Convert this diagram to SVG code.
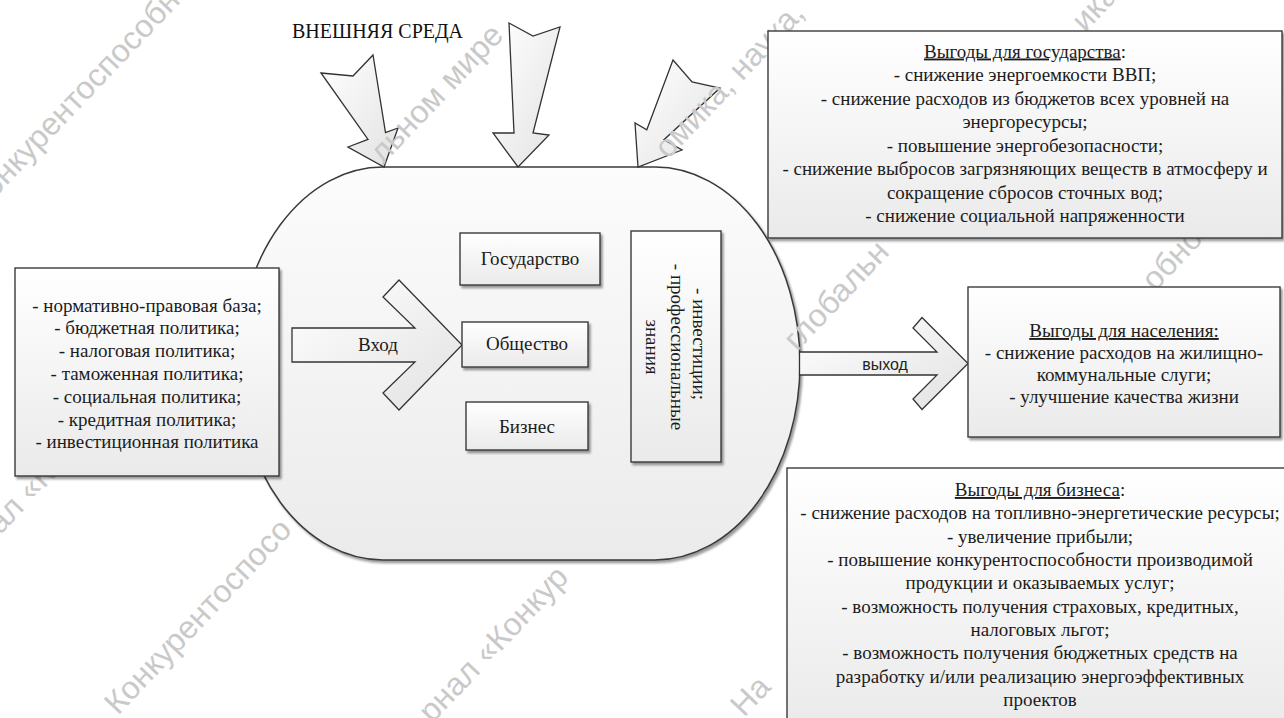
<svg xmlns="http://www.w3.org/2000/svg" width="1284" height="718" viewBox="0 0 1284 718">
<defs>
<linearGradient id="gBox" x1="0" y1="0" x2="0" y2="1"><stop offset="0" stop-color="#ffffff"/><stop offset="1" stop-color="#eaeaea"/></linearGradient>
<linearGradient id="gShape" x1="0" y1="0" x2="0" y2="1"><stop offset="0" stop-color="#fcfcfc"/><stop offset="1" stop-color="#ebebeb"/></linearGradient>
<linearGradient id="gArrow" x1="0" y1="0" x2="1" y2="1"><stop offset="0" stop-color="#ffffff"/><stop offset="1" stop-color="#e2e2e2"/></linearGradient>
<filter id="sh" x="-5%" y="-5%" width="115%" height="115%"><feDropShadow dx="2" dy="2.5" stdDeviation="1.2" flood-color="#000" flood-opacity="0.4"/></filter>
</defs>
<style>
.box{fill:url(#gBox);stroke:#3a3a3a;stroke-width:1.4;filter:url(#sh)}
.shape{fill:url(#gShape);stroke:#3a3a3a;stroke-width:1.5;filter:url(#sh)}
.arr{fill:url(#gArrow);stroke:#333;stroke-width:1.3;stroke-linejoin:miter}
.t{font-family:"Liberation Serif","Times New Roman",serif;font-size:19px;fill:#1c1c1c;text-anchor:middle}
.title{font-family:"Liberation Serif","Times New Roman",serif;font-size:20px;fill:#111}
.wm{font-family:"Liberation Sans",Arial,sans-serif;font-size:32px;fill:#c9c9c9}
.lbl{font-family:"Liberation Sans",Arial,sans-serif;font-size:16px;fill:#222;text-anchor:middle}
</style>
<rect width="1284" height="718" fill="#ffffff"/>

<g id="system">
<path class="shape" d="M383,167 H655 A145,196.5 0 0 1 655,560 H383 A145,196.5 0 0 1 383,167 Z"/>
</g>

<g id="connectors">
<polygon class="arr" points="321,73 353,76 373,55 385.5,132.7 398,128 384,167 348,147 368,139.4"/>
<polygon class="arr" points="509,23 533,36 560,27 533,133 549,135 518,167 493,133 514,133"/>
<polygon class="arr" points="673,60 692,82 720,88 664,139.7 682,150 638,167 635,123 646.8,129.8"/>
<polygon class="arr" points="292,328 415,328 383,297 399,280 462,345 399,410 383,393 415,362 292,362"/>
<text class="t" x="378" y="351">Вход</text>
<polygon class="arr" points="799.5,352 937,352 913,328 922,317.5 968,363.5 922,409.5 913,399 937,375 799.5,375"/>
<text class="lbl" x="885" y="370">выход</text>
</g>

<g id="watermark">
<text class="wm" transform="translate(-6,199) rotate(-46.5)">онкурентоспособн</text>
<text class="wm" transform="translate(383,165) rotate(-46.5)">льном мире</text>
<text class="wm" transform="translate(668,160) rotate(-46.5)">омика, наука,</text>
<text class="wm" transform="translate(797,352) rotate(-46.5)">глобальн</text>
<text class="wm" transform="translate(1085,33) rotate(-46.5)">ика,</text>
<text class="wm" transform="translate(-12,548) rotate(-46.5)">нал «К</text>
<text class="wm" transform="translate(118,716) rotate(-46.5)">Конкурентоспосо</text>
<text class="wm" transform="translate(432,724) rotate(-46.5)">рнал «Конкур</text>
<text class="wm" transform="translate(744,718) rotate(-46.5)">На</text>
<text class="wm" transform="translate(1155,292) rotate(-46.5)">обно</text>
</g>

<g id="env-label">
<text class="title" x="292" y="38">ВНЕШНЯЯ СРЕДА</text>
</g>

<g id="instruments">
<rect class="box" x="15" y="268" width="264" height="208"/>
<text class="t" x="147" y="311.5">- нормативно-правовая база;</text>
<text class="t" x="147" y="334.3">- бюджетная политика;</text>
<text class="t" x="147" y="357.1">- налоговая политика;</text>
<text class="t" x="147" y="379.9">- таможенная политика;</text>
<text class="t" x="147" y="402.7">- социальная политика;</text>
<text class="t" x="147" y="425.5">- кредитная политика;</text>
<text class="t" x="147" y="448.3">- инвестиционная политика</text>
</g>

<g id="state">
<rect class="box" x="460" y="233" width="140" height="52"/>
<text class="t" x="530" y="265">Государство</text>
</g>
<g id="society">
<rect class="box" x="462" y="322" width="126" height="45"/>
<text class="t" x="527" y="350">Общество</text>
</g>
<g id="business">
<rect class="box" x="466" y="402" width="122" height="48"/>
<text class="t" x="527" y="433">Бизнес</text>
</g>

<g id="resources">
<rect class="box" x="631" y="231" width="90" height="231"/>
<text class="t" transform="translate(693,344) rotate(90)">- инвестиции;</text>
<text class="t" transform="translate(670.5,347) rotate(90)">- профессиональные</text>
<text class="t" transform="translate(646,347) rotate(90)">знания</text>
</g>

<g id="benefits-state">
<rect class="box" x="768" y="31" width="514" height="207"/>
<text class="t" x="1025" y="57.5"><tspan text-decoration="underline">Выгоды для государства</tspan>:</text>
<text class="t" x="1025" y="81">- снижение энергоемкости ВВП;</text>
<text class="t" x="1025" y="104.5">- снижение расходов из бюджетов всех уровней на</text>
<text class="t" x="1025" y="128">энергоресурсы;</text>
<text class="t" x="1025" y="151.5">- повышение энергобезопасности;</text>
<text class="t" x="1025" y="175">- снижение выбросов загрязняющих веществ в атмосферу и</text>
<text class="t" x="1025" y="198.5">сокращение сбросов сточных вод;</text>
<text class="t" x="1025" y="222">- снижение социальной напряженности</text>
</g>

<g id="benefits-population">
<rect class="box" x="968" y="287" width="312" height="150"/>
<text class="t" x="1124" y="337" text-decoration="underline">Выгоды для населения:</text>
<text class="t" x="1124" y="359">- снижение расходов на жилищно-</text>
<text class="t" x="1124" y="381">коммунальные слуги;</text>
<text class="t" x="1124" y="403">- улучшение качества жизни</text>
</g>

<g id="benefits-business">
<rect class="box" x="787" y="468" width="508" height="262"/>
<text class="t" x="1040" y="496"><tspan text-decoration="underline">Выгоды для бизнеса</tspan>:</text>
<text class="t" x="1040" y="519.3">- снижение расходов на топливно-энергетические ресурсы;</text>
<text class="t" x="1040" y="542.7">- увеличение прибыли;</text>
<text class="t" x="1040" y="566">- повышение конкурентоспособности производимой</text>
<text class="t" x="1040" y="589.3">продукции и оказываемых услуг;</text>
<text class="t" x="1040" y="612.7">- возможность получения страховых, кредитных,</text>
<text class="t" x="1040" y="636">налоговых льгот;</text>
<text class="t" x="1040" y="659.3">- возможность получения бюджетных средств на</text>
<text class="t" x="1040" y="682.7">разработку и/или реализацию энергоэффективных</text>
<text class="t" x="1040" y="706">проектов</text>
</g>
</svg>
